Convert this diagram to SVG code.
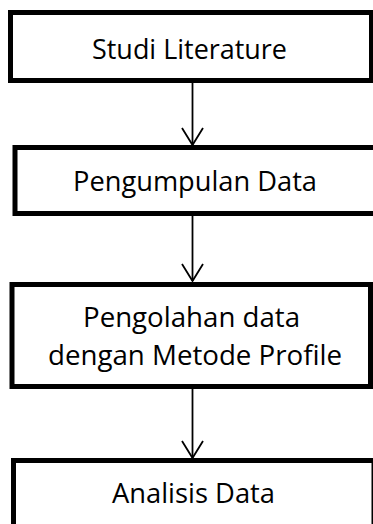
<svg xmlns="http://www.w3.org/2000/svg" width="373" height="524" viewBox="0 0 373 524">
<style>
.box{fill:#fff;stroke:#000;stroke-width:5}
.lbl{font-family:"Open Sans","Noto Sans",sans-serif;font-size:28px;fill:#000;text-anchor:middle}
.con{stroke:#000;stroke-width:1.8;fill:none}
</style>
<rect width="373" height="524" fill="#fff"/>
<g id="connectors">
<line class="con" x1="192.5" y1="83" x2="192.5" y2="145"/>
<polyline class="con" points="182,128 192.5,145 203,128"/>
<line class="con" x1="192.5" y1="216" x2="192.5" y2="281"/>
<polyline class="con" points="182,264 192.5,281 203,264"/>
<line class="con" x1="192.5" y1="389" x2="192.5" y2="458"/>
<polyline class="con" points="182,441 192.5,458 203,441"/>
</g>
<g id="n1">
<rect class="box" x="10.5" y="12.5" width="361" height="68"/>
<text class="lbl" x="189.5" y="59" textLength="195" lengthAdjust="spacingAndGlyphs">Studi Literature</text>
</g>
<g id="n2">
<rect class="box" x="15" y="147.5" width="370" height="66"/>
<text class="lbl" x="195" y="191" textLength="244" lengthAdjust="spacingAndGlyphs">Pengumpulan Data</text>
</g>
<g id="n3">
<rect class="box" x="12" y="284.5" width="358.5" height="102"/>
<text class="lbl" x="191.5" y="327" textLength="217" lengthAdjust="spacingAndGlyphs">Pengolahan data</text>
<text class="lbl" x="195" y="365" textLength="294" lengthAdjust="spacingAndGlyphs">dengan Metode Profile</text>
</g>
<g id="n4">
<rect class="box" x="13.5" y="460.5" width="360.5" height="80"/>
<text class="lbl" x="193.5" y="503" textLength="163" lengthAdjust="spacingAndGlyphs">Analisis Data</text>
</g>
</svg>
